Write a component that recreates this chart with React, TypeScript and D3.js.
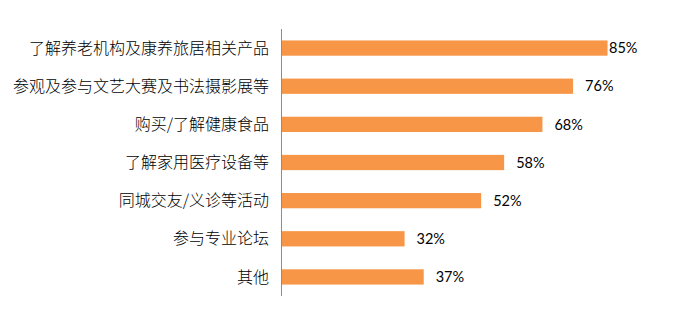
import React, { useEffect, useRef } from 'react';
import * as d3 from 'd3';

const categories = [
  '了解养老机构及康养旅居相关产品',
  '参观及参与文艺大赛及书法摄影展等',
  '购买/了解健康食品',
  '了解家用医疗设备等',
  '同城交友/义诊等活动',
  '参与专业论坛',
  '其他',
];
const values = [85, 76, 68, 58, 52, 32, 37];

const App: React.FC = () => {
  const ref = useRef<SVGSVGElement | null>(null);

  useEffect(() => {
    if (!ref.current) return;
    const svg = d3.select(ref.current);
    svg.selectAll('*').remove();

    const data = categories.map((c, i) => ({ name: c, value: values[i] }));

    const x = d3.scaleLinear().domain([0, 100]).range([282, 665]);
    const y = d3.scaleBand()
      .domain(categories)
      .range([29, 296])
      .paddingInner(0.6)
      .paddingOuter(0.3);

    svg.selectAll('.bar')
      .data(data)
      .enter().append('rect')
      .attr('class', 'bar')
      .attr('x', x(0))
      .attr('y', d => y(d.name)!)
      .attr('width', d => x(d.value) - x(0))
      .attr('height', y.bandwidth())
      .attr('fill', '#F79646');

    svg.append('line')
      .attr('x1', 281.5).attr('x2', 281.5)
      .attr('y1', 29).attr('y2', 296)
      .attr('stroke', '#8c8c8c')
      .attr('stroke-width', 1);

    svg.selectAll('.cat')
      .data(data)
      .enter().append('text')
      .attr('class', 'cat')
      .attr('x', 269)
      .attr('y', d => y(d.name)! + y.bandwidth() / 2)
      .attr('dy', '0.35em')
      .attr('text-anchor', 'end')
      .attr('font-family', '"Noto Sans CJK SC", sans-serif')
      .attr('font-weight', 300)
      .attr('font-size', 16)
      .attr('fill', '#000')
      .text(d => d.name);

    svg.selectAll('.val')
      .data(data)
      .enter().append('text')
      .attr('class', 'val')
      .attr('x', d => Math.min(x(d.value) + 12, 609))
      .attr('y', d => y(d.name)! + y.bandwidth() / 2)
      .attr('dy', '0.36em')
      .attr('font-family', 'Lato, sans-serif')
      .attr('font-size', 14.5)
      .attr('fill', '#000')
      .text(d => `${d.value}%`);
  }, []);

  return (
    <svg ref={ref} width={675} height={317} style={{ position: 'absolute', left: 0, top: 0 }}></svg>
  );
};

export default App;
